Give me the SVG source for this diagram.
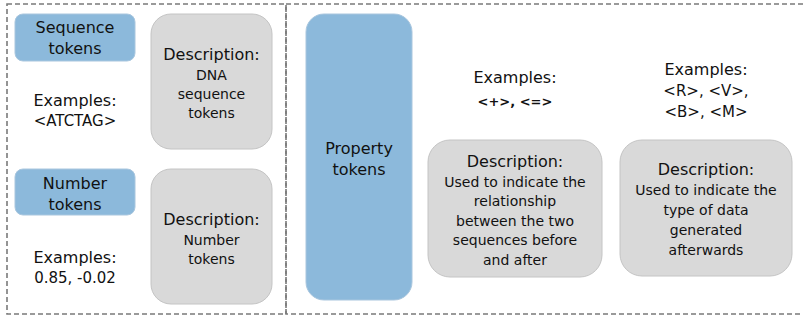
<svg xmlns="http://www.w3.org/2000/svg" width="803" height="320" viewBox="0 0 803 320">
  <style>
    .frame { fill: none; stroke: #7a7a7a; stroke-width: 1.6; stroke-dasharray: 5 3; }
    .tok { fill: #8cb9db; stroke: #a9c6de; stroke-width: 1; }
    .desc { fill: #d9d9d9; stroke: #c4c4c4; stroke-width: 1; }
    text { font-family: "DejaVu Sans", "Liberation Sans", sans-serif; fill: #111; text-anchor: middle; }
    .h { font-size: 16px; }
    .b { font-size: 14px; }
    .ex { font-size: 15px; }
    .sym { font-size: 13px; font-weight: bold; }
  </style>

  <!-- dashed panels -->
  <g id="panels">
    <rect class="frame" x="7" y="4" width="279" height="310"/>
    <rect class="frame" x="286" y="4" width="530" height="310"/>
  </g>

  <g id="connectors"/>

  <!-- left panel: sequence tokens -->
  <g id="sequence-tokens">
    <rect class="tok" x="15" y="14" width="120" height="47" rx="8"/>
    <text class="h" x="75" y="33">Sequence</text>
    <text class="h" x="75" y="54">tokens</text>
  </g>
  <g id="sequence-examples">
    <text class="h" x="75" y="106">Examples:</text>
    <text class="ex" x="75" y="126">&lt;ATCTAG&gt;</text>
  </g>
  <g id="sequence-description">
    <rect class="desc" x="151" y="14" width="121" height="135" rx="20"/>
    <text class="h" x="211.5" y="60">Description:</text>
    <text class="b" x="211.5" y="80">DNA</text>
    <text class="b" x="211.5" y="99">sequence</text>
    <text class="b" x="211.5" y="118">tokens</text>
  </g>

  <!-- left panel: number tokens -->
  <g id="number-tokens">
    <rect class="tok" x="15" y="169" width="120" height="46" rx="8"/>
    <text class="h" x="75" y="189">Number</text>
    <text class="h" x="75" y="210">tokens</text>
  </g>
  <g id="number-examples">
    <text class="h" x="75" y="263">Examples:</text>
    <text class="ex" x="75" y="283">0.85, -0.02</text>
  </g>
  <g id="number-description">
    <rect class="desc" x="151" y="169" width="121" height="135" rx="20"/>
    <text class="h" x="211.5" y="225">Description:</text>
    <text class="b" x="211.5" y="245">Number</text>
    <text class="b" x="211.5" y="264">tokens</text>
  </g>

  <!-- right panel: property tokens -->
  <g id="property-tokens">
    <rect class="tok" x="306" y="14" width="106" height="286" rx="18"/>
    <text class="h" x="359" y="154">Property</text>
    <text class="h" x="359" y="175">tokens</text>
  </g>
  <g id="relation-examples">
    <text class="h" x="515" y="83">Examples:</text>
    <text class="sym" x="515" y="106">&lt;+&gt;, &lt;=&gt;</text>
  </g>
  <g id="relation-description">
    <rect class="desc" x="428" y="140" width="174" height="137" rx="22"/>
    <text class="h" x="515" y="167">Description:</text>
    <text class="b" x="515" y="187">Used to indicate the</text>
    <text class="b" x="515" y="206">relationship</text>
    <text class="b" x="515" y="226">between the two</text>
    <text class="b" x="515" y="245">sequences before</text>
    <text class="b" x="515" y="265">and after</text>
  </g>
  <g id="type-examples">
    <text class="h" x="706" y="75">Examples:</text>
    <text class="ex" x="706" y="96">&lt;R&gt;, &lt;V&gt;,</text>
    <text class="ex" x="706" y="117">&lt;B&gt;, &lt;M&gt;</text>
  </g>
  <g id="type-description">
    <rect class="desc" x="620" y="140" width="172" height="136" rx="22"/>
    <text class="h" x="706" y="175">Description:</text>
    <text class="b" x="706" y="195">Used to indicate the</text>
    <text class="b" x="706" y="215">type of data</text>
    <text class="b" x="706" y="235">generated</text>
    <text class="b" x="706" y="255">afterwards</text>
  </g>
</svg>
